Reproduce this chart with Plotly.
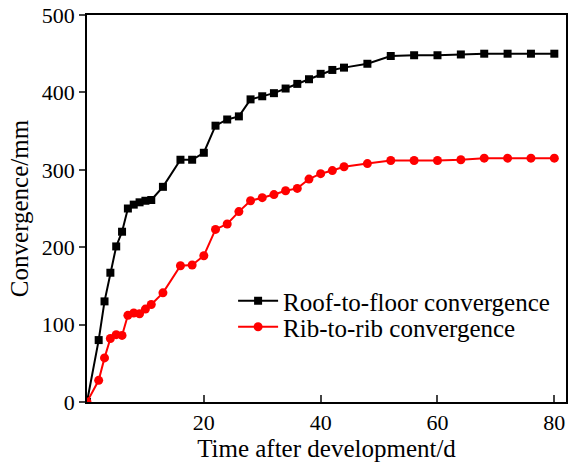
import plotly.graph_objects as go

days = [0, 2, 3, 4, 5, 6, 7, 8, 9, 10, 11, 13, 16, 18, 20, 22, 24, 26, 28, 30, 32, 34, 36, 38, 40, 42, 44, 48, 52, 56, 60, 64, 68, 72, 76, 80]
roof_floor = [0, 80, 130, 167, 201, 220, 250, 255, 258, 260, 261, 278, 313, 313, 322, 357, 365, 369, 391, 395, 399, 405, 411, 417, 424, 429, 432, 437, 447, 448, 448, 449, 450, 450, 450, 450]
rib_rib = [0, 28, 57, 82, 87, 86, 112, 115, 114, 120, 126, 141, 176, 177, 189, 223, 230, 246, 260, 264, 268, 273, 276, 288, 295, 299, 304, 308, 312, 312, 312, 313, 315, 315, 315, 315]

font = "Liberation Serif, Times New Roman, serif"

fig = go.Figure()
fig.add_trace(go.Scatter(x=days, y=roof_floor, mode="lines+markers", name="Roof-to-floor convergence",
                         line=dict(color="black", width=2), marker=dict(symbol="square", size=8, color="black"),
                         legend="legend"))
fig.add_trace(go.Scatter(x=days, y=rib_rib, mode="lines+markers", name="Rib-to-rib convergence",
                         line=dict(color="#ff0000", width=2), marker=dict(symbol="circle", size=9, color="#ff0000"),
                         legend="legend2"))

leg_common = dict(xanchor="left", yanchor="middle", bgcolor="rgba(0,0,0,0)",
                  font=dict(family=font, size=25, color="black"), itemwidth=40)
fig.update_layout(
    width=571, height=464,
    margin=dict(l=87, r=3, t=15, b=62),
    paper_bgcolor="white", plot_bgcolor="white",
    font=dict(family=font, size=21, color="black"),
    showlegend=True,
    legend=dict(x=0.305, y=(402 - 301) / 387, **leg_common),
    legend2=dict(x=0.305, y=(402 - 327) / 387, **leg_common),
)
fig.update_xaxes(range=[0, 82], tickvals=[20, 40, 60, 80], ticks="inside", ticklen=7, tickwidth=1.5,
                 tickfont=dict(family=font, size=22, color="black"),
                 showline=True, linecolor="black", linewidth=1.5, mirror=True, showgrid=False, zeroline=False,
                 title=dict(text="Time after development/d", standoff=0))
fig.update_yaxes(range=[0, 500], tickvals=[0, 100, 200, 300, 400, 500], ticks="outside", ticklen=6, tickwidth=1.5,
                 tickfont=dict(family=font, size=22, color="black"),
                 showline=True, linecolor="black", linewidth=1.5, mirror=True, showgrid=False, zeroline=False,
                 title=dict(text="Convergence/mm", standoff=6))

fig.write_html("out.html")
